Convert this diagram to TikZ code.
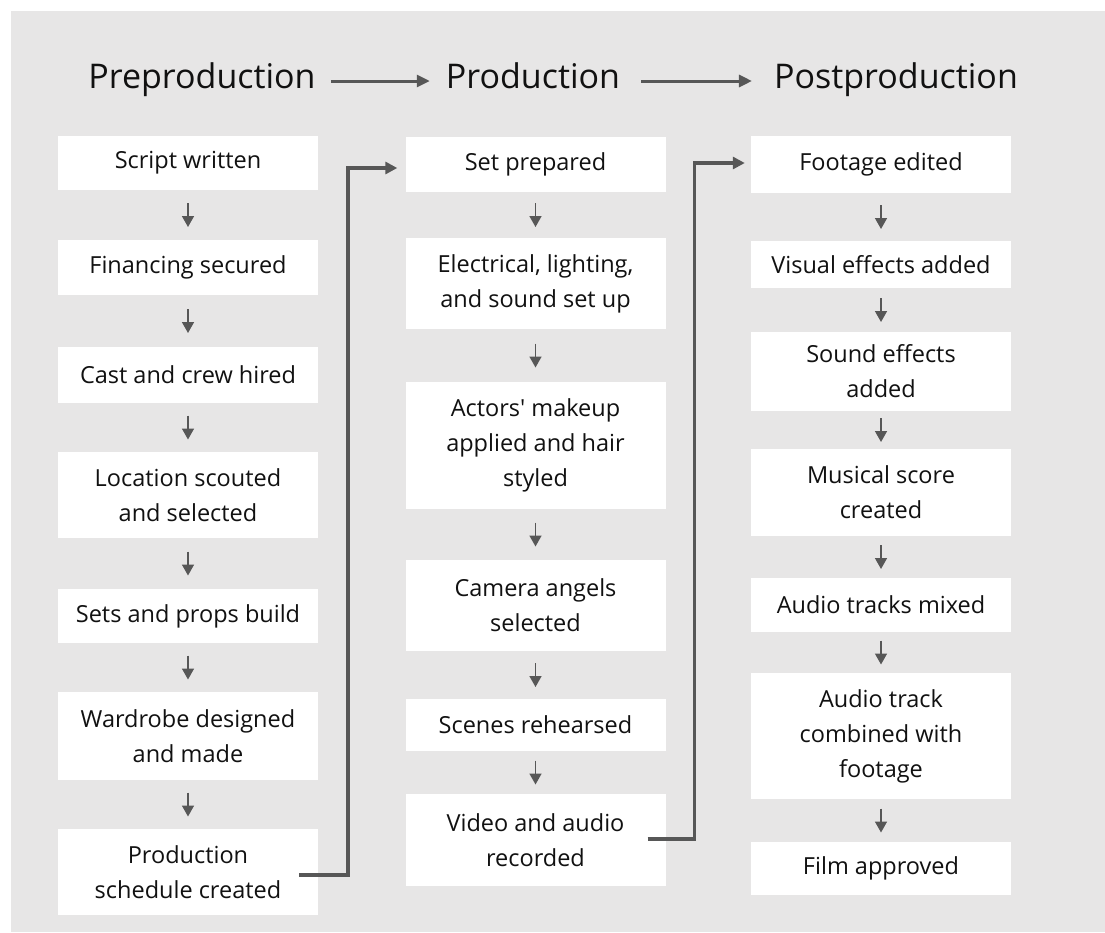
\documentclass[tikz,border=0pt]{standalone}
\usepackage{fontspec}
\setmainfont{Open Sans}
\usetikzlibrary{arrows.meta,calc}
\definecolor{paneGray}{HTML}{E7E6E6}
\definecolor{lineGray}{HTML}{575757}
\definecolor{inkBlack}{HTML}{111111}

\begin{document}
\begin{tikzpicture}[x=1pt,y=-1pt,
	stage/.style={anchor=base,inner sep=0pt,text=inkBlack,font=\fontsize{34}{40}\selectfont},
	task/.style={fill=white,minimum width=260pt,inner sep=0pt,align=center,text=inkBlack,font=\fontsize{23.5}{35}\selectfont},
	headarrow/.style={draw=lineGray,line width=3pt,-{Triangle[length=13pt,width=12pt]}},
	downarrow/.style={draw=lineGray,line width=1.6pt,-{Triangle[length=11pt,width=12pt]}},
	route/.style={draw=lineGray,line width=3.5pt,-{Triangle[length=12pt,width=12pt]}}]
	\useasboundingbox (0,0) rectangle (1105,932);
	\fill[paneGray] (11,11) rectangle (1105,932);

	\node[stage] (pre) at (202,88) {Preproduction};
	\node[stage] (prod) at (533,88) {Production};
	\node[stage] (post) at (896,88) {Postproduction};
	\draw[headarrow,shorten <=15pt,shorten >=16pt] ([yshift=7pt]pre.base east) -- ([yshift=7pt]prod.base west);
	\draw[headarrow,shorten <=21pt,shorten >=22pt] ([yshift=7pt]prod.base east) -- ([yshift=7pt]post.base west);

	\node[task,minimum height=54pt] (s1) at (188,163) {Script written};
	\node[task,minimum height=55pt] (s2) at (188,267.5) {Financing secured};
	\node[task,minimum height=56pt] (s3) at (188,375) {Cast and crew hired};
	\node[task,minimum height=86pt] (s4) at (188,495) {Location scouted\\and selected};
	\node[task,minimum height=54pt] (s5) at (188,616) {Sets and props build};
	\node[task,minimum height=88pt] (s6) at (188,736) {Wardrobe designed\\and made};
	\node[task,minimum height=86pt] (s7) at (188,872) {Production\\schedule created};

	\node[task,minimum height=55pt] (p1) at (535.5,164.5) {Set prepared};
	\node[task,minimum height=91pt] (p2) at (535.5,283.5) {Electrical, lighting,\\and sound set up};
	\node[task,minimum height=127pt] (p3) at (535.5,445.5) {Actors\textquotesingle{} makeup\\applied and hair\\styled};
	\node[task,minimum height=91pt] (p4) at (535.5,605.5) {Camera angels\\selected};
	\node[task,minimum height=52pt] (p5) at (535.5,725) {Scenes rehearsed};
	\node[task,minimum height=92pt] (p6) at (535.5,840) {Video and audio\\recorded};

	\node[task,minimum height=57pt] (f1) at (881,164.5) {Footage edited};
	\node[task,minimum height=47pt] (f2) at (881,264.5) {Visual effects added};
	\node[task,minimum height=79pt] (f3) at (881,371.5) {Sound effects\\added};
	\node[task,minimum height=87pt] (f4) at (881,492.5) {Musical score\\created};
	\node[task,minimum height=54pt] (f5) at (881,605) {Audio tracks mixed};
	\node[task,minimum height=126pt] (f6) at (881,736) {Audio track\\combined with\\footage};
	\node[task,minimum height=53pt] (f7) at (881,868.5) {Film approved};

	\foreach \a/\b in {s1/s2,s2/s3,s3/s4,s4/s5,s5/s6,s6/s7,p1/p2,p2/p3,p3/p4,p4/p5,p5/p6,f1/f2,f2/f3,f3/f4,f4/f5,f5/f6,f6/f7}
		\draw[downarrow] ($(\a.south)!.5!(\b.north)+(0,-12)$) -- ++(0,24);

	\draw[route,shorten >=8pt] ([xshift=-19pt,yshift=-3pt]s7.east) -- ++(49,0) |- ([yshift=-3.5pt]p1.west);
	\draw[route,shorten >=6pt] ([xshift=-18pt,yshift=1pt]p6.east) -- ++(47,0) |- ([yshift=1.5pt]f1.west);
\end{tikzpicture}
\end{document}
